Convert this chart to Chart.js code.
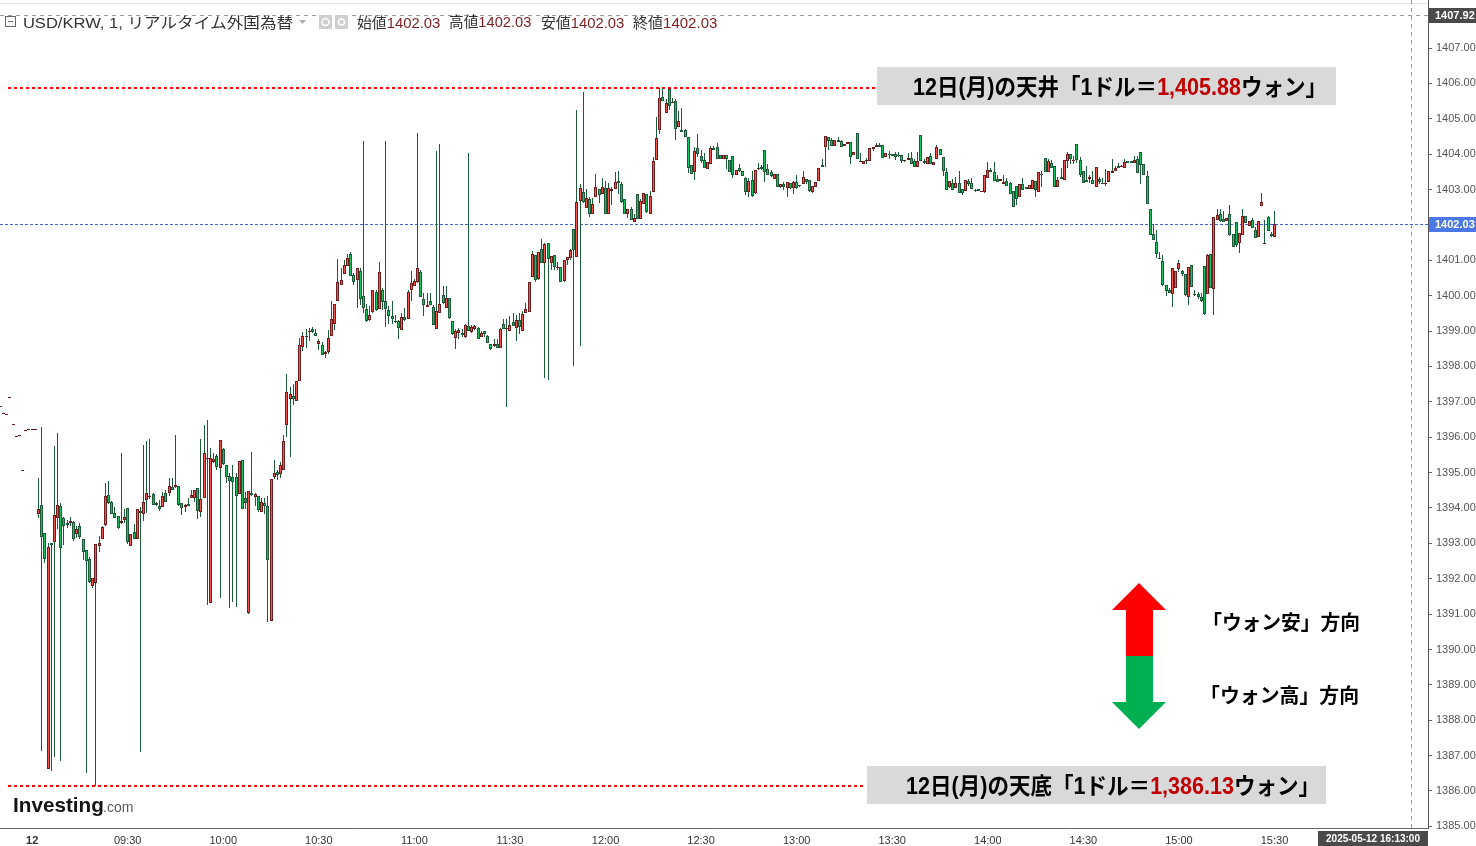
<!DOCTYPE html>
<html><head><meta charset="utf-8">
<script src="https://cdn.jsdelivr.net/npm/chart.js@4.4.0/dist/chart.umd.min.js"></script>
<style>html,body{margin:0;padding:0;background:#fff;overflow:hidden}canvas{display:block}</style>
</head><body>
<canvas id="c" width="1476" height="846"></canvas>
<script>
// ---------------- data ----------------
const FIRST_MINUTE = -10;            // minutes after 09:00 of the first quote (08:50)
const DAY_LABEL = '12';
const TICK_MINUTES = [0,30,60,90,120,150,180,210,240,270,300,330,360,390];
const PRICE_TICKS = [1385,1386,1387,1388,1389,1390,1391,1392,1393,1394,1395,1396,1397,1398,1399,1400,1401,1402,1403,1404,1405,1406,1407,1408];
const PRE_QUOTES = [1396.85,1396.66,1396.63,1397.11,1396.34,1396.00,1396.03,1395.04,1396.17,1396.20,1396.20,1396.20];
const OPEN = [
1393.83,1394.08,1393.29,1386.62,1393.01,1393.04,1393.72,1394.05,1393.72,1393.58,
1393.58,1393.60,1393.26,1393.49,1393.12,1392.81,1392.56,1391.78,1391.87,1392.93,
1393.12,1393.52,1394.36,1394.17,1393.86,1393.77,1393.58,1393.66,1394.00,1392.93,
1393.32,1393.12,1393.91,1393.83,1394.22,1394.31,1394.39,1394.14,1394.05,1394.03,
1394.42,1394.42,1394.59,1394.59,1394.62,1394.14,1394.03,1394.11,1394.28,1394.28,
1394.56,1393.89,1394.28,1395.38,1391.31,1395.30,1395.47,1395.13,1395.66,1395.21,
1394.90,1394.87,1394.87,1394.39,1395.35,1394.28,1391.03,1394.42,1394.31,1394.34,
1393.89,1394.14,1394.05,1390.80,1394.87,1395.01,1394.96,1395.07,1396.34,1397.08,
1397.16,1397.02,1397.59,1398.55,1398.83,1398.97,1399.06,1398.94,1398.63,1398.61,
1398.35,1398.41,1398.86,1399.20,1399.85,1400.30,1400.61,1400.84,1401.18,1400.58,
1400.44,1400.70,1399.99,1399.62,1399.31,1399.54,1400.10,1399.62,1400.16,1399.85,
1399.59,1399.42,1399.28,1399.28,1399.03,1399.40,1399.34,1400.16,1400.27,1400.39,
1400.67,1399.91,1399.68,1399.85,1399.68,1399.06,1399.51,1400.02,1399.65,1399.93,
1399.28,1398.80,1398.94,1398.94,1398.83,1399.14,1398.97,1399.06,1399.08,1398.83,
1399.00,1398.86,1398.63,1398.58,1398.63,1398.52,1399.20,1399.06,1399.00,1399.25,
1399.08,1399.31,1399.00,1399.51,1399.54,1400.53,1401.15,1400.47,1401.32,1400.92,
1401.49,1400.92,1401.15,1400.78,1400.81,1400.41,1401.01,1401.06,1401.88,1401.09,
1402.67,1402.93,1402.48,1402.73,1402.31,1402.79,1403.01,1402.88,1403.04,1402.31,
1402.96,1403.01,1403.24,1403.15,1402.73,1402.31,1402.45,1402.08,1402.88,1402.17,
1402.59,1402.88,1402.31,1402.93,1403.83,1404.68,1405.61,1405.16,1405.85,1405.45,
1405.50,1404.77,1404.68,1404.68,1404.48,1403.69,1403.49,1404.17,1403.95,1403.83,
1403.58,1403.72,1404.17,1404.20,1403.97,1403.86,1403.97,1403.83,1403.95,1403.41,
1403.61,1403.52,1403.33,1402.93,1403.27,1402.90,1403.58,1403.63,1404.12,1403.58,
1403.49,1403.30,1403.44,1403.07,1403.15,1403.04,1403.18,1403.04,1403.21,1403.10,
1403.15,1403.30,1403.27,1402.93,1403.07,1403.24,1403.69,1404.20,1404.48,1404.40,
1404.23,1404.40,1404.37,1404.23,1404.28,1404.34,1403.97,1404.60,1403.78,1403.72,
1403.80,1403.80,1404.14,1404.20,1404.26,1404.26,1403.92,1404.00,1404.00,1404.00,
1403.97,1403.97,1403.80,1403.83,1403.89,1403.80,1403.63,1404.54,1403.80,1403.72,
1403.95,1403.69,1403.86,1404.14,1403.92,1403.49,1403.07,1403.18,1403.04,1403.18,
1403.01,1402.96,1403.24,1403.18,1402.99,1403.01,1402.93,1402.93,1403.33,1403.55,
1403.49,1403.30,1403.24,1403.15,1403.24,1403.18,1402.96,1403.10,1402.79,1403.15,
1403.07,1403.01,1403.01,1403.24,1402.93,1403.44,1403.89,1403.49,1403.75,1403.66,
1403.07,1403.35,1403.27,1403.80,1404.00,1403.82,1404.29,1403.83,1403.52,1403.27,
1403.30,1403.27,1403.07,1403.30,1403.18,1403.17,1403.21,1403.47,1403.52,1403.66,
1403.63,1403.61,1403.80,1403.80,1403.75,1403.86,1404.06,1403.72,1403.38,1402.45,
1401.74,1401.52,1401.06,1400.98,1400.30,1400.16,1400.05,1400.22,1400.75,1400.70,
1400.61,1399.96,1400.87,1400.02,1400.05,1399.96,1400.84,1400.05,1401.18,1400.19,
1402.14,1402.31,1402.17,1402.11,1402.31,1401.74,1402.08,1401.49,1401.71,1402.25,
1401.97,1402.14,1401.85,1401.66,1402.53,1401.46,1402.22,1401.74,1401.66];
const HIGH = [
1394.85,1396.29,1393.29,1393.01,1393.01,1395.75,1396.12,1394.14,1393.74,1393.66,
1393.74,1393.63,1393.49,1393.58,1393.12,1392.81,1392.61,1392.01,1392.98,1393.21,
1393.49,1394.70,1394.76,1394.19,1394.03,1393.77,1395.55,1393.97,1394.00,1393.26,
1393.55,1393.97,1394.03,1395.78,1395.89,1395.95,1394.42,1394.17,1394.22,1394.45,
1394.50,1394.85,1394.85,1396.06,1394.62,1394.14,1394.11,1394.28,1394.50,1394.50,
1394.56,1395.95,1396.34,1396.48,1395.69,1395.55,1395.52,1395.92,1395.69,1395.21,
1394.99,1395.21,1394.99,1395.33,1395.35,1394.45,1394.48,1395.58,1394.42,1394.34,
1394.28,1394.28,1394.34,1394.82,1395.35,1395.07,1395.30,1396.06,1397.78,1397.42,
1397.50,1397.59,1398.81,1398.97,1399.06,1399.08,1399.11,1399.06,1398.77,1398.69,
1398.44,1399.03,1399.85,1399.77,1401.04,1400.78,1401.01,1401.18,1401.23,1400.64,
1400.78,1400.78,1404.37,1399.77,1399.71,1400.16,1400.16,1400.95,1400.22,1404.37,
1399.71,1399.85,1399.45,1399.31,1399.51,1399.65,1400.16,1400.70,1400.47,1404.60,
1400.73,1400.08,1400.08,1400.08,1399.74,1404.09,1404.29,1400.27,1400.27,1399.93,
1399.28,1399.06,1399.08,1399.06,1399.20,1404.03,1399.17,1399.17,1399.11,1399.00,
1399.00,1398.89,1398.63,1398.77,1398.77,1399.08,1399.34,1399.34,1399.42,1399.51,
1399.45,1399.51,1399.57,1399.79,1400.39,1401.26,1401.15,1401.23,1401.60,1401.49,
1401.49,1401.12,1401.15,1400.95,1400.81,1401.01,1401.09,1401.32,1401.88,1405.25,
1403.15,1405.76,1403.01,1402.79,1402.76,1403.44,1403.01,1403.33,1403.24,1403.18,
1403.07,1403.49,1403.52,1403.21,1402.73,1402.45,1402.51,1402.31,1402.88,1402.73,
1402.90,1402.88,1402.96,1403.92,1405.05,1405.88,1405.88,1405.56,1405.88,1405.59,
1405.56,1405.22,1405.30,1404.71,1404.48,1403.69,1404.20,1404.57,1404.12,1404.03,
1403.78,1404.23,1404.23,1404.31,1403.97,1403.97,1403.97,1403.83,1403.95,1403.55,
1403.72,1403.52,1403.35,1403.33,1403.52,1403.55,1403.75,1403.69,1404.12,1403.72,
1403.55,1403.44,1403.44,1403.15,1403.21,1403.21,1403.18,1403.24,1403.41,1403.12,
1403.52,1403.30,1403.27,1403.10,1403.21,1403.61,1403.86,1404.51,1404.48,1404.45,
1404.40,1404.48,1404.40,1404.28,1404.34,1404.34,1404.06,1404.60,1404.03,1403.80,
1403.89,1404.17,1404.20,1404.31,1404.31,1404.26,1404.03,1404.09,1404.00,1404.06,
1404.06,1403.97,1403.83,1404.03,1404.06,1403.86,1404.06,1404.54,1403.86,1403.92,
1404.03,1403.78,1404.26,1404.14,1403.92,1403.61,1403.24,1403.30,1403.35,1403.52,
1403.01,1403.27,1403.30,1403.33,1403.01,1403.01,1402.96,1403.41,1403.78,1403.61,
1403.78,1403.41,1403.30,1403.41,1403.33,1403.21,1402.96,1403.10,1403.15,1403.33,
1403.07,1403.13,1403.27,1403.24,1403.49,1403.52,1403.89,1403.86,1403.83,1403.66,
1403.35,1403.61,1403.83,1404.06,1404.00,1403.95,1404.29,1403.92,1403.52,1403.66,
1403.41,1403.52,1403.63,1403.35,1403.33,1403.58,1403.52,1403.86,1403.66,1403.75,
1403.69,1403.86,1403.80,1403.80,1403.95,1403.95,1404.06,1403.72,1403.52,1402.45,
1402.02,1401.85,1401.23,1401.15,1400.30,1400.22,1400.78,1400.70,1401.01,1400.73,
1400.61,1400.81,1400.87,1400.16,1400.10,1400.08,1400.84,1401.18,1401.18,1402.22,
1402.45,1402.45,1402.39,1402.19,1402.56,1401.74,1402.08,1401.77,1402.45,1402.25,
1402.11,1402.19,1401.94,1402.11,1402.90,1402.14,1402.25,1401.80,1402.39];
const LOW = [
1393.72,1387.13,1392.44,1386.62,1386.57,1386.96,1393.41,1386.85,1392.95,1393.43,
1393.49,1393.07,1393.15,1393.12,1392.53,1386.51,1391.87,1391.75,1386.13,1392.75,
1393.12,1393.49,1394.11,1393.83,1393.72,1393.41,1393.55,1393.58,1392.98,1392.93,
1393.12,1393.12,1387.10,1393.63,1393.86,1394.25,1394.08,1394.05,1393.91,1394.03,
1394.17,1394.34,1394.50,1394.56,1394.05,1393.80,1393.89,1394.05,1394.28,1394.17,
1393.69,1393.74,1394.28,1391.25,1391.31,1395.27,1395.07,1391.45,1395.21,1394.70,
1391.17,1391.34,1391.20,1394.39,1393.97,1393.97,1391.00,1394.34,1394.05,1393.89,
1393.89,1393.83,1390.77,1390.80,1394.82,1394.79,1394.85,1395.07,1396.00,1395.44,
1396.91,1397.02,1397.59,1398.44,1398.52,1398.72,1398.94,1398.86,1398.46,1398.32,
1398.24,1398.35,1398.86,1399.03,1399.85,1400.30,1400.61,1400.84,1400.56,1400.30,
1399.65,1399.74,1399.51,1399.25,1399.28,1399.51,1399.57,1399.62,1399.59,1399.11,
1399.20,1399.20,1399.23,1398.77,1399.03,1399.28,1399.34,1399.85,1400.27,1400.36,
1399.96,1399.42,1399.68,1399.74,1399.17,1399.06,1399.51,1399.77,1399.65,1399.34,
1398.89,1398.49,1398.77,1398.83,1398.80,1399.00,1398.94,1399.03,1398.77,1398.83,
1398.83,1398.66,1398.46,1398.55,1398.52,1398.52,1399.06,1396.85,1399.00,1399.14,
1398.72,1398.91,1399.00,1399.51,1399.54,1400.53,1400.39,1400.44,1400.92,1397.67,
1397.61,1400.73,1400.73,1400.73,1400.39,1400.39,1400.87,1401.01,1398.01,1401.09,
1398.58,1402.62,1402.48,1402.22,1402.31,1402.79,1402.62,1402.88,1402.31,1402.31,
1402.56,1403.01,1402.88,1402.62,1402.31,1402.20,1402.14,1402.08,1402.17,1402.17,
1402.59,1402.34,1402.31,1402.93,1403.83,1404.57,1405.50,1405.16,1405.25,1405.45,
1404.40,1404.77,1404.63,1404.48,1403.46,1403.44,1403.27,1403.92,1403.75,1403.60,
1403.58,1403.72,1404.12,1403.86,1403.86,1403.86,1403.58,1403.49,1403.33,1403.41,
1403.49,1403.38,1402.85,1402.79,1402.79,1402.88,1403.55,1403.55,1403.21,1403.41,
1403.35,1403.30,1403.07,1403.04,1402.99,1402.79,1403.01,1402.88,1403.01,1403.07,
1403.15,1403.15,1402.93,1402.90,1403.07,1403.24,1403.63,1403.63,1404.12,1404.23,
1404.23,1404.34,1404.20,1404.23,1404.28,1403.72,1403.97,1403.86,1403.78,1403.72,
1403.72,1403.80,1404.09,1404.20,1404.20,1403.89,1403.92,1403.86,1403.95,1403.83,
1403.92,1403.75,1403.78,1403.83,1403.72,1403.63,1403.63,1403.80,1403.72,1403.72,
1403.72,1403.69,1403.86,1403.97,1403.38,1402.99,1403.04,1402.99,1403.04,1402.90,
1402.85,1402.96,1403.10,1403.01,1402.93,1402.96,1402.93,1402.90,1403.33,1403.49,
1403.24,1403.21,1403.24,1403.15,1403.10,1402.88,1402.51,1402.56,1402.79,1402.99,
1403.01,1403.01,1403.01,1402.79,1402.93,1403.07,1403.49,1403.49,1403.61,1403.07,
1403.07,1403.30,1403.27,1403.61,1403.72,1403.72,1403.75,1403.35,1403.18,1403.21,
1403.18,1403.15,1403.07,1403.15,1403.15,1403.10,1403.21,1403.47,1403.52,1403.61,
1403.63,1403.61,1403.75,1403.75,1403.75,1403.47,1403.15,1403.41,1402.59,1401.71,
1401.57,1401.06,1401.04,1400.27,1399.99,1400.07,1399.68,1400.22,1400.67,1400.56,
1399.99,1399.74,1400.25,1399.99,1399.91,1399.82,1399.45,1400.05,1400.22,1399.45,
1402.14,1402.08,1402.08,1402.11,1401.69,1401.37,1401.37,1401.21,1401.71,1402.05,
1401.97,1401.91,1401.63,1401.66,1402.53,1401.46,1401.83,1401.66,1401.66];
const CLOSE = [
1393.97,1393.18,1392.56,1392.90,1392.95,1393.80,1394.08,1392.88,1393.49,1393.52,
1393.63,1393.12,1393.41,1393.18,1392.75,1392.50,1391.92,1392.01,1392.98,1393.01,
1393.46,1394.34,1394.14,1393.83,1393.72,1393.43,1393.63,1393.74,1393.04,1393.26,
1393.12,1393.97,1393.86,1394.17,1394.42,1394.34,1394.08,1394.08,1393.97,1394.34,
1394.17,1394.62,1394.50,1394.64,1394.08,1394.00,1394.08,1394.05,1394.36,1394.50,
1393.91,1394.25,1395.55,1395.41,1395.41,1395.38,1395.16,1395.92,1395.24,1394.87,
1394.76,1394.73,1394.34,1395.33,1393.97,1394.14,1394.48,1394.36,1394.39,1393.94,
1394.17,1394.05,1392.53,1394.82,1394.99,1394.93,1395.21,1395.89,1397.28,1397.22,
1397.08,1397.59,1398.61,1398.86,1398.86,1399.00,1398.97,1398.86,1398.72,1398.32,
1398.41,1398.80,1399.34,1399.77,1400.39,1400.44,1400.87,1401.06,1400.56,1400.39,
1400.78,1399.91,1399.65,1399.28,1399.45,1400.16,1399.59,1400.67,1399.82,1399.62,
1399.42,1399.34,1399.25,1399.08,1399.40,1399.31,1400.10,1400.36,1400.41,1400.78,
1399.96,1399.74,1399.74,1399.74,1399.17,1399.57,1399.77,1399.79,1399.93,1399.37,
1398.91,1399.00,1399.03,1398.89,1399.17,1399.00,1399.11,1399.14,1398.77,1398.94,
1398.91,1398.66,1398.49,1398.63,1398.52,1399.06,1399.06,1399.08,1399.17,1399.14,
1399.31,1399.11,1399.48,1399.62,1400.39,1401.18,1400.44,1401.23,1400.92,1401.46,
1401.04,1401.12,1400.81,1400.81,1400.39,1401.01,1401.09,1401.29,1401.29,1402.65,
1403.04,1402.65,1402.76,1402.31,1402.59,1403.07,1402.84,1403.07,1402.31,1403.04,
1403.01,1403.21,1403.18,1402.65,1402.31,1402.45,1402.14,1402.19,1402.17,1402.68,
1402.90,1402.37,1402.82,1403.80,1404.45,1405.59,1405.50,1405.45,1405.36,1405.47,
1404.71,1404.94,1404.63,1404.48,1403.60,1403.44,1404.09,1404.00,1403.80,1403.60,
1403.78,1404.17,1404.12,1403.86,1403.86,1403.97,1403.86,1403.49,1403.41,1403.55,
1403.52,1403.38,1402.93,1403.24,1402.82,1403.55,1403.61,1403.58,1403.49,1403.41,
1403.38,1403.44,1403.07,1403.15,1403.07,1403.21,1403.04,1403.21,1403.04,1403.09,
1403.35,1403.21,1402.96,1403.10,1403.21,1403.61,1403.63,1404.51,1404.37,1404.23,
1404.40,1404.34,1404.20,1404.28,1404.34,1403.92,1404.06,1403.86,1403.80,1403.80,
1403.83,1404.17,1404.20,1404.26,1404.20,1403.89,1404.03,1403.97,1403.95,1403.92,
1403.96,1403.80,1403.83,1403.89,1403.72,1403.63,1403.80,1403.80,1403.75,1403.92,
1403.72,1403.78,1404.20,1403.97,1403.52,1402.99,1403.24,1402.99,1403.18,1402.90,
1402.90,1403.27,1403.15,1403.01,1402.96,1402.96,1402.96,1403.41,1403.55,1403.49,
1403.24,1403.21,1403.30,1403.21,1403.10,1402.88,1402.51,1402.73,1403.15,1402.99,
1403.01,1403.13,1403.27,1402.99,1403.49,1403.41,1403.49,1403.80,1403.61,1403.07,
1403.27,1403.30,1403.83,1404.00,1403.86,1403.83,1403.83,1403.41,1403.18,1403.21,
1403.35,1403.15,1403.63,1403.21,1403.17,1403.18,1403.52,1403.52,1403.61,1403.61,
1403.66,1403.78,1403.75,1403.75,1403.83,1403.47,1403.69,1403.41,1402.59,1401.71,
1401.57,1401.18,1401.04,1400.30,1400.13,1400.07,1400.78,1400.70,1400.92,1400.61,
1400.02,1400.81,1400.25,1400.01,1399.96,1399.85,1399.48,1401.15,1400.22,1402.22,
1402.28,1402.11,1402.08,1402.19,1401.71,1401.37,1401.43,1401.77,1402.25,1402.05,
1402.11,1401.91,1401.63,1402.11,1402.65,1401.49,1401.83,1401.69,1402.03];

const DAY_HIGH = 1405.88, DAY_LOW = 1386.13, LAST_PRICE = 1402.03;
const CROSS_PRICE = 1407.92, CROSS_MINUTE = 433, CROSS_LABEL = '2025-05-12 16:13:00';

// ---------------- build ----------------
const opens = PRE_QUOTES.concat(OPEN), highs = PRE_QUOTES.concat(HIGH);
const lows = PRE_QUOTES.concat(LOW), closes = PRE_QUOTES.concat(CLOSE);
const minutes = opens.map((_, i) => FIRST_MINUTE + i);

const UP_FILL = '#f0554f', UP_LINE = '#6e1c1c', DN_FILL = '#14c163', DN_LINE = '#1b5b38', WICK = '#1b5b38';
const bodyFill = opens.map((o, i) => closes[i] > o ? UP_FILL : closes[i] < o ? DN_FILL : UP_LINE);
const bodyLine = opens.map((o, i) => closes[i] < o ? DN_LINE : UP_LINE);

function hhmm(m) { const t = 9 * 60 + m; return String(Math.floor(t / 60)).padStart(2, '0') + ':' + String(t % 60).padStart(2, '0'); }
const fmtComma = v => v.toLocaleString('en-US', {minimumFractionDigits: 2, maximumFractionDigits: 2});

function drawInk(ctx, parts, font, x0, x1, cy, baseline) {
  ctx.save();
  ctx.font = font; ctx.textAlign = 'left'; ctx.textBaseline = 'alphabetic';
  const m = ctx.measureText(parts.map(p => p[0]).join(''));
  const left = -m.actualBoundingBoxLeft, right = m.actualBoundingBoxRight;
  const k = (x1 - x0) / (right - left);
  const by = baseline != null ? baseline : cy + (m.actualBoundingBoxAscent - m.actualBoundingBoxDescent) / 2;
  ctx.translate(x0 - left * k, by); ctx.scale(k, 1);
  let cx = 0;
  for (const [t, c] of parts) { ctx.fillStyle = c; ctx.fillText(t, cx, 0); cx += ctx.measureText(t).width; }
  ctx.restore();
}

const overlay = {
  id: 'overlay',
  beforeDatasetsDraw(chart) {
    chart.data.datasets.forEach((ds, di) => {
      chart.getDatasetMeta(di).data.forEach(el => {
        el.x = Math.floor(el.x) + 0.5;
        let y = Math.round(el.y), b = Math.round(el.base);
        if (y === b && ds.minBarLength) b = y + 1;
        el.y = y; el.base = b;
      });
    });
    const ctx = chart.ctx, ys = chart.scales.y, xs = chart.scales.x, ca = chart.chartArea;
    ctx.save();
    ctx.fillStyle = '#e4e4e4'; ctx.fillRect(ca.left, 3, ca.right - ca.left, 1);
    ctx.fillStyle = '#9a9a9a';
    const cyy = Math.round(ys.getPixelForValue(CROSS_PRICE));
    for (let x = ca.left; x < ca.right; x += 8) ctx.fillRect(x, cyy, 4, 1);
    const cxx = Math.round(xs.getPixelForValue(CROSS_MINUTE));
    for (let y = ca.top; y < ca.bottom; y += 8) ctx.fillRect(cxx, y, 1, 4);
    ctx.fillStyle = '#3f62d4';
    const ly = Math.round(ys.getPixelForValue(LAST_PRICE));
    for (let x = ca.left; x < ca.right; x += 5) ctx.fillRect(x, ly, 3, 1);
    ctx.fillStyle = '#ff0000';
    const hy = Math.round(ys.getPixelForValue(DAY_HIGH));
    for (let x = 8; x < 876; x += 6) ctx.fillRect(x, hy - 1, 3, 2);
    const lwy = Math.round(ys.getPixelForValue(DAY_LOW));
    for (let x = 8; x < 866; x += 6) ctx.fillRect(x, lwy - 1, 3, 2);
    ctx.restore();
  },
  afterDraw(chart) {
    const ctx = chart.ctx, ys = chart.scales.y;
    ctx.save();
    const JP = '"Liberation Sans", "Noto Sans CJK JP", sans-serif';
    ctx.strokeStyle = '#666'; ctx.lineWidth = 1;
    ctx.strokeRect(5.5, 16.5, 10, 10); ctx.beginPath(); ctx.moveTo(8, 21.5); ctx.lineTo(13, 21.5); ctx.stroke();
    drawInk(ctx, [['USD/KRW, 1, リアルタイム外国為替', '#333']], '15px ' + JP, 24, 293, 22);
    ctx.fillStyle = '#b0b0b0'; ctx.beginPath(); ctx.moveTo(299, 20); ctx.lineTo(306, 20); ctx.lineTo(302.5, 24); ctx.closePath(); ctx.fill();
    ctx.fillStyle = '#cfcfcf'; ctx.fillRect(319, 15, 13, 14); ctx.fillRect(335, 15, 13, 14);
    ctx.strokeStyle = '#fff'; ctx.lineWidth = 1.5;
    ctx.beginPath(); ctx.arc(325.5, 22, 3.5, 0, Math.PI * 2); ctx.stroke();
    ctx.beginPath(); ctx.arc(341.5, 22, 3, 0, Math.PI * 2); ctx.stroke();
    const VAL = '#7d1d1d', v = LAST_PRICE.toFixed(2);
    drawInk(ctx, [['始値', '#333'], [v, VAL]], '15px ' + JP, 357, 440, 22);
    drawInk(ctx, [['高値', '#333'], [v, VAL]], '15px ' + JP, 449, 531, 22);
    drawInk(ctx, [['安値', '#333'], [v, VAL]], '15px ' + JP, 541, 624, 22);
    drawInk(ctx, [['終値', '#333'], [v, VAL]], '15px ' + JP, 633, 717, 22);
    drawInk(ctx, [['Investing', '#141414']], 'bold 21px "Liberation Sans", sans-serif', 14, 103, 0, 812);
    drawInk(ctx, [['.com', '#5a5a5a']], '15px "Liberation Sans", sans-serif', 104, 133, 0, 812);
    ctx.fillStyle = '#d9d9d9'; ctx.fillRect(877, 67, 459, 38); ctx.fillRect(867, 766, 459, 38);
    const BF = 'bold 23px ' + JP;
    drawInk(ctx, [['12日(月)の天井「1ドル＝', '#000'], [fmtComma(DAY_HIGH), '#c00000'], ['ウォン」', '#000']], BF, 914, 1314, 87);
    drawInk(ctx, [['12日(月)の天底「1ドル＝', '#000'], [fmtComma(DAY_LOW), '#c00000'], ['ウォン」', '#000']], BF, 907, 1307, 786);
    ctx.fillStyle = '#ff0000';
    ctx.beginPath(); ctx.moveTo(1139, 583); ctx.lineTo(1166, 610); ctx.lineTo(1153, 610); ctx.lineTo(1153, 656);
    ctx.lineTo(1126, 656); ctx.lineTo(1126, 610); ctx.lineTo(1112, 610); ctx.closePath(); ctx.fill();
    ctx.fillStyle = '#00b050';
    ctx.beginPath(); ctx.moveTo(1126, 656); ctx.lineTo(1153, 656); ctx.lineTo(1153, 702); ctx.lineTo(1166, 702);
    ctx.lineTo(1139, 729); ctx.lineTo(1112, 702); ctx.lineTo(1126, 702); ctx.closePath(); ctx.fill();
    drawInk(ctx, [['「ウォン安」方向', '#000']], 'bold 20px "Noto Sans CJK JP", sans-serif', 1214, 1359, 622);
    drawInk(ctx, [['「ウォン高」方向', '#000']], 'bold 20px "Noto Sans CJK JP", sans-serif', 1212, 1358, 695);
    ctx.font = 'bold 11px "Liberation Sans", sans-serif'; ctx.textBaseline = 'middle'; ctx.textAlign = 'left';
    let y = Math.round(ys.getPixelForValue(CROSS_PRICE));
    ctx.fillStyle = '#4a4a4a'; ctx.fillRect(1429, y - 7, 47, 15);
    ctx.fillStyle = '#fff'; ctx.fillText(CROSS_PRICE.toFixed(2), 1435, y + 1);
    y = Math.round(ys.getPixelForValue(LAST_PRICE));
    ctx.fillStyle = '#4a78e6'; ctx.fillRect(1429, y - 7, 47, 15);
    ctx.fillStyle = '#fff'; ctx.fillText(LAST_PRICE.toFixed(2), 1435, y + 1);
    ctx.fillStyle = '#4a4a4a'; ctx.fillRect(1318, 831, 110, 15);
    ctx.fillStyle = '#fff'; ctx.font = 'bold 10px "Liberation Sans", sans-serif'; ctx.textAlign = 'center';
    ctx.fillText(CROSS_LABEL, 1373, 839);
    ctx.restore();
  }
};

Chart.defaults.font.family = '"Liberation Sans", Arial, sans-serif';
new Chart(document.getElementById('c'), {
  type: 'bar',
  data: {
    datasets: [
      { label: 'body', data: minutes.map((m, i) => ({x: m, y: [opens[i], closes[i]]})),
        backgroundColor: bodyFill, borderColor: bodyLine, borderWidth: 1, borderSkipped: false,
        barThickness: 3, minBarLength: 1, grouped: false, inflateAmount: 0, order: 0 },
      { label: 'wick', data: minutes.map((m, i) => ({x: m, y: [lows[i], highs[i]]})),
        backgroundColor: WICK, borderWidth: 0, barThickness: 1, grouped: false, inflateAmount: 0, order: 1 }
    ]
  },
  options: {
    responsive: false, animation: false, events: [],
    layout: { padding: 0 },
    plugins: { legend: { display: false }, tooltip: { enabled: false } },
    scales: {
      x: {
        type: 'linear', position: 'bottom', min: -10.085, max: 438.19, offset: false,
        afterBuildTicks: s => { s.ticks = TICK_MINUTES.map(v => ({value: v})); },
        afterFit: s => { s.height = 18; s.paddingLeft = 0; s.paddingRight = 0; },
        grid: { display: false, drawTicks: false },
        border: { display: true, color: '#666' },
        ticks: { autoSkip: false, maxRotation: 0, padding: 6, color: '#333',
          font: c => ({ size: 11, weight: c.tick && c.tick.value === 0 ? 'bold' : 'normal' }),
          callback: v => v === 0 ? DAY_LABEL : hhmm(v) }
      },
      y: {
        type: 'linear', position: 'right', min: 1384.954, max: 1408.357,
        afterBuildTicks: s => { s.ticks = PRICE_TICKS.map(v => ({value: v})); },
        afterFit: s => { s.width = 48; s.paddingTop = 0; s.paddingBottom = 0; },
        grid: { drawOnChartArea: false, drawTicks: true, tickLength: 4, color: '#666' },
        border: { display: true, color: '#555' },
        ticks: { padding: 4, color: '#555', font: { size: 11 }, callback: v => v.toFixed(2) }
      }
    }
  },
  plugins: [overlay]
});
</script>
</body></html>
